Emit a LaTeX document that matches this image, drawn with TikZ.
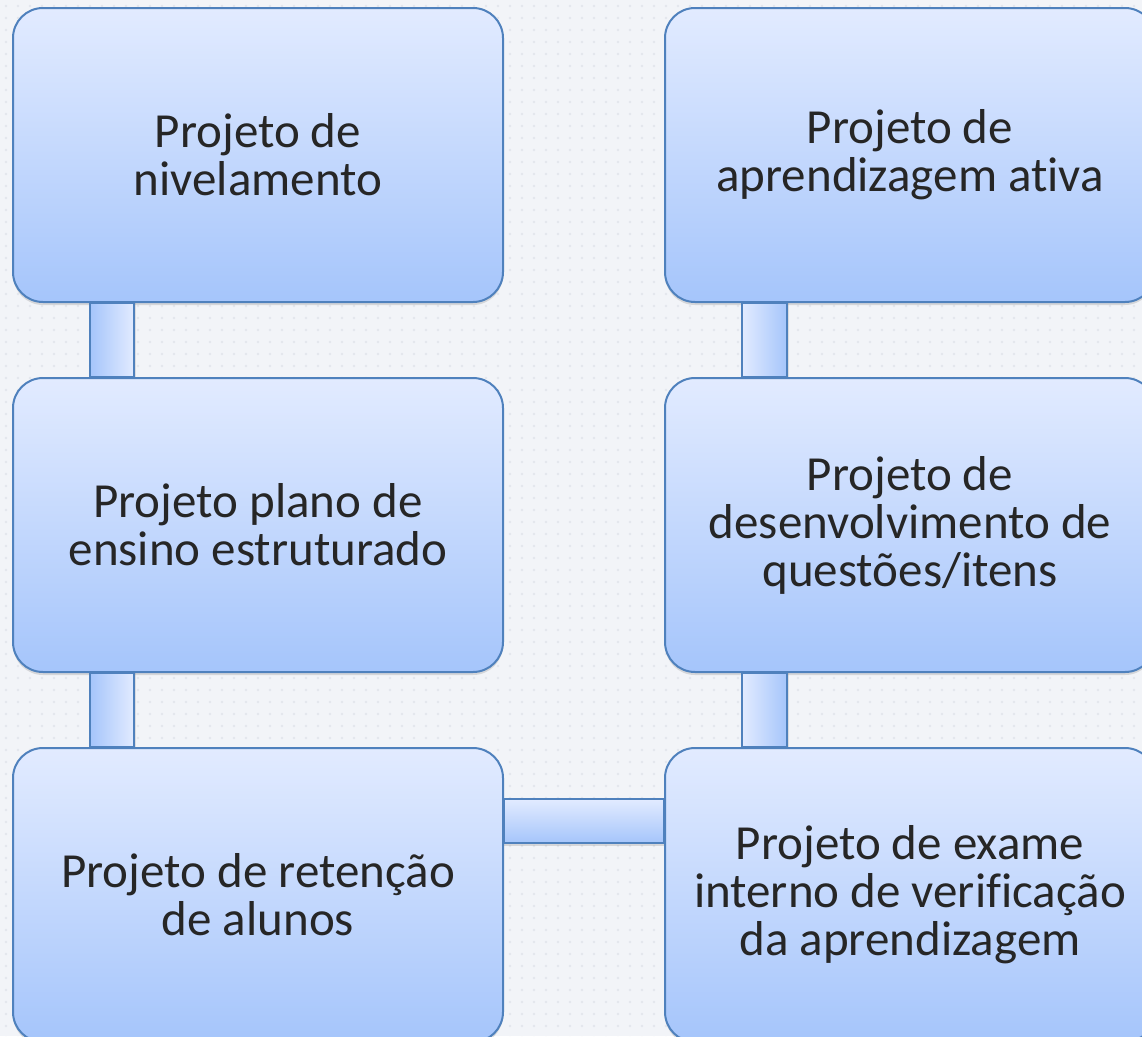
\documentclass[tikz,border=0pt]{standalone}
\usepackage{fontspec}
\setmainfont{Carlito}[Ligatures=NoCommon]
\usetikzlibrary{positioning,shadows}
\definecolor{bordblue}{HTML}{4F81BD}
\definecolor{boxtop}{HTML}{E2EBFF}
\definecolor{boxbot}{HTML}{A5C5FB}
\definecolor{paper}{HTML}{F2F4F8}
\definecolor{dotgray}{HTML}{E3E6EC}
\definecolor{txt}{HTML}{262626}
\tikzstyle{project} = [draw=bordblue, line width=2pt, rounded corners=30pt,
  minimum width=490pt, minimum height=294pt, inner sep=0pt,
  top color=boxtop, bottom color=boxbot, align=center, text=txt,
  font=\fontsize{49}{48}\selectfont,
  drop shadow={opacity=0.25, shadow xshift=0pt, shadow yshift=-3pt}]
\tikzstyle{vlink} = [draw=bordblue, line width=2pt,
  drop shadow={opacity=0.2, shadow xshift=2pt, shadow yshift=0pt}]
\tikzstyle{hlink} = [draw=bordblue, line width=2pt, top color=boxtop, bottom color=boxbot,
  drop shadow={opacity=0.25, shadow xshift=0pt, shadow yshift=-3pt}]
\tikzstyle{dotrow} = [dotgray, line width=2.6pt, line cap=round, dash pattern=on 0pt off 12pt]

\begin{document}
\begin{tikzpicture}[x=1pt,y=1pt,node distance=74pt]
	% page and dotted background
	\useasboundingbox (0,0) rectangle (1142,-1036);
	\clip (0,0) rectangle (1142,-1036);
	\fill[paper] (0,0) rectangle (1142,-1036);
	\foreach \j in {0,...,86}
		\draw[dotrow] (6,-6-12*\j) -- (1142,-6-12*\j);

	% put the project boxes where we want them
	\node [project] (niv) at (258,-155) {Projeto de\\nivelamento};
	\node [project,below=of niv] (plano) {Projeto plano de\\ensino estruturado};
	\node [project,below=of plano] (ret) {Projeto de retenção\\de alunos};
	\node [project] (ativa) at (910,-155) {Projeto de\\aprendizagem ativa};
	\node [project,below=of ativa] (quest) {Projeto de\\desenvolvimento de\\questões/itens};
	\node [project,below=of quest] (exame) {Projeto de exame\\interno de verificação\\da aprendizagem};

	% left column links
	\draw [vlink,left color=boxbot,right color=boxtop]
		([xshift=-168pt]niv.south) rectangle ([xshift=-124pt]plano.north);
	\draw [vlink,left color=boxbot,right color=boxtop]
		([xshift=-168pt]plano.south) rectangle ([xshift=-124pt]ret.north);

	% right column links
	\draw [vlink,left color=boxtop,right color=boxbot]
		([xshift=-168pt]ativa.south) rectangle ([xshift=-123pt]quest.north);
	\draw [vlink,left color=boxtop,right color=boxbot]
		([xshift=-168pt]quest.south) rectangle ([xshift=-123pt]exame.north);

	% bottom link
	\draw [hlink] ([yshift=96pt]ret.east) rectangle ([yshift=52pt]exame.west);
\end{tikzpicture}
\end{document}
